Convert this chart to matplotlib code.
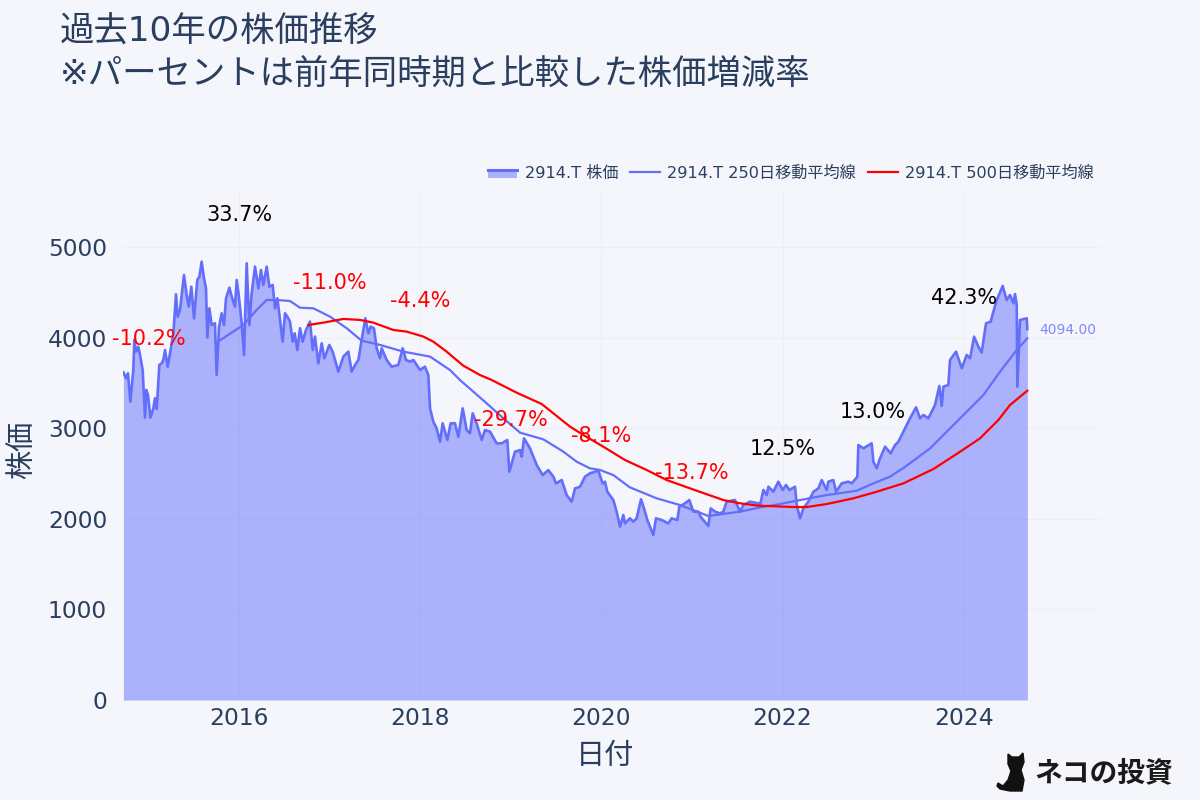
import matplotlib
matplotlib.use("Agg")
import matplotlib.pyplot as plt
from matplotlib.legend_handler import HandlerBase
from matplotlib.lines import Line2D
from matplotlib.patches import Patch, Polygon, Rectangle

plt.rcParams["font.family"] = ["DejaVu Sans", "Noto Sans CJK JP"]

# 日付は年の小数表記
price_x = [2014.724, 2014.753, 2014.775, 2014.801, 2014.834, 2014.845, 2014.864, 2014.889, 2014.908, 2014.937,
           2014.963, 2014.978, 2014.996, 2015.022, 2015.055, 2015.073, 2015.092, 2015.121, 2015.147, 2015.165,
           2015.184, 2015.213, 2015.239, 2015.276, 2015.305, 2015.323, 2015.349, 2015.393, 2015.423, 2015.445,
           2015.474, 2015.504, 2015.540, 2015.563, 2015.588, 2015.614, 2015.636, 2015.651, 2015.673, 2015.699,
           2015.735, 2015.754, 2015.780, 2015.809, 2015.835, 2015.857, 2015.894, 2015.920, 2015.956, 2015.975,
           2015.997, 2016.030, 2016.056, 2016.085, 2016.114, 2016.140, 2016.177, 2016.214, 2016.243, 2016.269,
           2016.306, 2016.335, 2016.372, 2016.398, 2016.424,
           2016.482, 2016.508, 2016.534, 2016.563, 2016.593, 2016.615, 2016.644, 2016.674, 2016.703, 2016.740,
           2016.784, 2016.814, 2016.839, 2016.876, 2016.913, 2016.942, 2016.997, 2017.034, 2017.097, 2017.152,
           2017.207, 2017.244, 2017.281, 2017.318, 2017.354, 2017.395, 2017.428, 2017.454, 2017.490, 2017.520,
           2017.557, 2017.575, 2017.630, 2017.685, 2017.759, 2017.807, 2017.844, 2017.888, 2017.925, 2017.998,
           2018.053, 2018.090, 2018.109,
           2018.145, 2018.182, 2018.219, 2018.248, 2018.300, 2018.336, 2018.384, 2018.421, 2018.469, 2018.513,
           2018.550, 2018.579, 2018.623, 2018.679, 2018.715, 2018.771, 2018.844, 2018.899, 2018.962, 2018.984,
           2019.047, 2019.102, 2019.120, 2019.146, 2019.212, 2019.286, 2019.352, 2019.414, 2019.470, 2019.499,
           2019.562, 2019.617, 2019.672, 2019.709, 2019.764, 2019.819,
           2019.874, 2019.966, 2020.014, 2020.040, 2020.065, 2020.132, 2020.168, 2020.205, 2020.242, 2020.260,
           2020.315, 2020.352, 2020.389, 2020.437, 2020.470, 2020.507, 2020.573, 2020.602, 2020.665, 2020.739,
           2020.775, 2020.838, 2020.860, 2020.923, 2020.970, 2021.015, 2021.070, 2021.095, 2021.125, 2021.180,
           2021.206, 2021.254, 2021.309, 2021.346, 2021.382, 2021.474, 2021.530, 2021.566, 2021.640, 2021.732,
           2021.751, 2021.788, 2021.825, 2021.843, 2021.898, 2021.953, 2022.001, 2022.038, 2022.075, 2022.137,
           2022.156, 2022.192, 2022.229, 2022.284, 2022.340, 2022.395, 2022.432, 2022.487, 2022.505, 2022.560,
           2022.590, 2022.652, 2022.726, 2022.763, 2022.825, 2022.836, 2022.892, 2022.983, 2023.002, 2023.039,
           2023.068, 2023.131, 2023.193, 2023.241, 2023.278, 2023.333,
           2023.406, 2023.473, 2023.517, 2023.554, 2023.609, 2023.682, 2023.730, 2023.756, 2023.774, 2023.829,
           2023.848, 2023.914, 2023.977, 2024.032, 2024.069, 2024.113, 2024.161, 2024.197, 2024.245, 2024.297,
           2024.326, 2024.363, 2024.429, 2024.473, 2024.510, 2024.547, 2024.565, 2024.584, 2024.591, 2024.620,
           2024.694, 2024.701]
price_y = [3617, 3550, 3606, 3293, 3642, 3974, 3845, 3900, 3808, 3642,
           3116, 3422, 3366, 3116, 3219, 3330, 3212, 3698, 3716, 3753,
           3863, 3679, 3826, 4047, 4478, 4231, 4305, 4691, 4470, 4342,
           4562, 4213, 4636, 4673, 4838, 4654, 4544, 4001, 4323, 4139,
           4158, 3587, 4121, 4268, 4139, 4434, 4551, 4452, 4342, 4636,
           4470, 4158, 3808, 4820, 4139, 4489, 4783, 4544, 4746, 4581,
           4783, 4562, 4581, 4323, 4434,
           3955, 4268, 4231, 4176, 3955, 4047, 3863, 4103, 3955, 4084,
           4176, 3863, 4011, 3716, 3937, 3771, 3919, 3845, 3624, 3790,
           3845, 3624, 3698, 3753, 3974, 4213, 4047, 4121, 4103, 3882,
           3771, 3882, 3753, 3679, 3698, 3882, 3753, 3735, 3753, 3643,
           3679, 3587, 3219,
           3072, 2998, 2851, 3054, 2870, 3054, 3054, 2906, 3219, 2980,
           2943, 3164, 3054, 2870, 2980, 2962, 2833, 2833, 2870, 2520,
           2741, 2759, 2686, 2888, 2778, 2594, 2483, 2538, 2465, 2391,
           2428, 2262, 2189, 2336, 2354, 2465,
           2502, 2531, 2391, 2410, 2299, 2207, 2079, 1913, 2042, 1950,
           2005, 1968, 2005, 2215, 2115, 1987, 1821, 2005, 1987, 1950,
           2005, 1987, 2134, 2171, 2207, 2079, 2079, 2023, 1987, 1920,
           2115, 2079, 2060, 2079, 2189, 2207, 2079, 2152, 2189, 2171,
           2152, 2318, 2262, 2354, 2299, 2410, 2318, 2373, 2318, 2354,
           2152, 2005, 2115, 2189, 2299, 2336, 2428, 2318, 2410, 2428,
           2299, 2391, 2410, 2391, 2465, 2814, 2778, 2833, 2630, 2557,
           2649, 2796, 2722, 2814, 2851, 2962,
           3109, 3230, 3109, 3146, 3109, 3256, 3466, 3245, 3458, 3477,
           3753, 3845, 3661, 3808, 3771, 4010, 3900, 3834, 4158, 4176,
           4286, 4415, 4570, 4415, 4470, 4378, 4481, 4360, 3458, 4194,
           4213, 4094]

ma250_x = [2015.780, 2016.048, 2016.195, 2016.306, 2016.416, 2016.563, 2016.673, 2016.820, 2016.858, 2017.005,
           2017.189, 2017.354, 2017.557, 2017.814, 2018.109, 2018.219, 2018.329, 2018.439, 2018.734, 2018.918,
           2019.102, 2019.359, 2019.580, 2019.727, 2019.874, 2019.984, 2020.131, 2020.315, 2020.610, 2020.867,
           2021.180, 2021.530, 2021.751, 2021.972, 2022.156, 2022.487, 2022.818, 2023.002, 2023.186, 2023.333,
           2023.627, 2023.940, 2024.216, 2024.400, 2024.584, 2024.701]
ma250_y = [3963, 4139, 4305, 4415, 4415, 4404, 4330, 4323, 4305, 4231,
           4103, 3966, 3919, 3845, 3790, 3716, 3642, 3532, 3274, 3109,
           2951, 2877, 2741, 2630, 2557, 2539, 2483, 2347, 2226, 2152,
           2031, 2079, 2126, 2163, 2200, 2262, 2310, 2391, 2465, 2560,
           2777, 3090, 3366, 3624, 3863, 3992]

ma500_x = [2016.766, 2016.931, 2017.152, 2017.336, 2017.483, 2017.704, 2017.851, 2018.035, 2018.145, 2018.219,
           2018.292, 2018.476, 2018.660, 2018.789, 2019.065, 2019.341, 2019.470, 2019.654, 2019.801, 2020.021,
           2020.260, 2020.499, 2020.720, 2020.978, 2021.346, 2021.530, 2021.732, 2022.119, 2022.266, 2022.487,
           2022.781, 2023.039, 2023.333, 2023.664, 2023.958, 2024.179, 2024.381, 2024.510, 2024.701]
ma500_y = [4139, 4165, 4206, 4195, 4165, 4084, 4066, 4011, 3955, 3900,
           3845, 3690, 3587, 3532, 3392, 3267, 3164, 3017, 2925, 2796,
           2649, 2539, 2428, 2336, 2207, 2171, 2145, 2130, 2130, 2163,
           2226, 2299, 2391, 2549, 2740, 2888, 3090, 3256, 3414]

note_x = [2015, 2016, 2017, 2018, 2019, 2020, 2021, 2022, 2023, 2024]
note_y = [3985, 5353, 4603, 4404, 3090, 2914, 2506, 2770, 3179, 4437]
note_text = ["-10.2%", "33.7%", "-11.0%", "-4.4%", "-29.7%", "-8.1%", "-13.7%", "12.5%", "13.0%", "42.3%"]

last_price = 4094.00
bg = "#f5f6fb"
ink = "#2a3f5f"
blue = "#636efa"


class AreaHandler(HandlerBase):
    # 凡例の面グラフ: 下に塗り, 上辺に線
    def create_artists(self, legend, handle, x, y, w, h, fontsize, trans):
        rect = Rectangle((x, y), w, h * 0.72, facecolor=blue, alpha=0.5, edgecolor="none", transform=trans)
        top = Line2D([x, x + w], [y + h * 0.72, y + h * 0.72], color=blue, lw=2.2, transform=trans)
        return [rect, top]


fig = plt.figure(figsize=(12, 8), dpi=100, facecolor=bg)
ax = fig.add_axes([123 / 1200, 100 / 800, 977 / 1200, 508 / 800], facecolor=bg)

ax.fill_between(price_x, price_y, 0, color=blue, alpha=0.5, lw=0)
ax.plot(price_x, price_y, color=blue, lw=1.9, label="2914.T 株価")
ax.plot(ma250_x, ma250_y, color=blue, lw=1.6, label="2914.T 250日移動平均線")
ax.plot(ma500_x, ma500_y, color="red", lw=1.6, label="2914.T 500日移動平均線")

ax.set_xlim(2014.72, 2025.503)
ax.set_ylim(0, 5607)
ax.set_xticks([2016, 2018, 2020, 2022, 2024], labels=["2016", "2018", "2020", "2022", "2024"])
ax.set_yticks([0, 1000, 2000, 3000, 4000, 5000])
ax.tick_params(axis="y", length=0, labelsize=16.8, labelcolor=ink, pad=11.5)
ax.tick_params(axis="x", length=0, labelsize=16.8, labelcolor=ink, pad=5)
ax.grid(color="#eceff6", lw=0.8)
ax.set_axisbelow(True)
for s in ax.spines.values():
    s.set_visible(False)
ax.set_xlabel("日付", fontsize=21, color=ink, va="center")
ax.xaxis.set_label_coords((605 - 123) / 977, (700 - 756) / 508)
ax.set_ylabel("株価", fontsize=21, color=ink, va="center")
ax.yaxis.set_label_coords((22 - 123) / 977, (700 - 450) / 508)

for x, y, t in zip(note_x, note_y, note_text):
    ax.text(x, y, t, fontsize=15, ha="center", va="center", clip_on=False,
            color="red" if t.startswith("-") else "black")

ax.annotate(f"{last_price:.2f}", (price_x[-1], last_price), xytext=(12, -1), textcoords="offset pixels",
            fontsize=10, color=blue, alpha=0.8, va="center", annotation_clip=False)

handles, labels = ax.get_legend_handles_labels()
area_key = Patch()
ax.legend([area_key] + handles[1:], labels, handler_map={area_key: AreaHandler()},
          loc="lower right", bbox_to_anchor=(1094 / 1200, 619 / 800), bbox_transform=fig.transFigure,
          ncol=3, frameon=False, fontsize=11.6, labelcolor=ink, columnspacing=0.75, handlelength=1.85,
          handletextpad=0.45, borderpad=0, borderaxespad=0)

fig.text(60 / 1200, 1 - 31 / 800, "過去10年の株価推移", fontsize=24.75, color=ink, va="center")
fig.text(60 / 1200, 1 - 75 / 800, "※パーセントは前年同時期と比較した株価増減率", fontsize=24.75, color=ink, va="center")

# ロゴ
cat = [(997, 786), (1000, 789), (1010, 791), (1022, 791), (1024, 780), (1021, 770), (1024, 762), (1023, 753),
       (1019, 757), (1012, 757), (1008, 754), (1008, 764), (1011, 771), (1008, 780), (1003, 786), (998, 783)]
fig.add_artist(Polygon([(x / 1200, 1 - y / 800) for x, y in cat], closed=True, color="#111111",
                       transform=fig.transFigure))
fig.text(1034 / 1200, 1 - 773 / 800, "ネコの投資", fontsize=20, fontweight="bold", color="#1a1a1a", va="center",
         family=["Noto Sans CJK JP"])

fig.savefig("out.png", dpi=100, facecolor=bg)
